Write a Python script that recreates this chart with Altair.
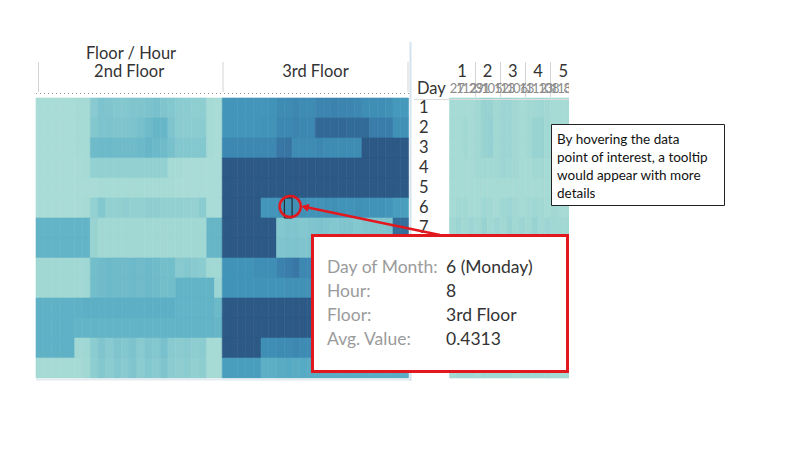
import altair as alt
import pandas as pd

# ---------------- data ----------------
FLOORS = ["2nd Floor", "3rd Floor"]
HOURS = list(range(24))
DAYS = list(range(1, 15))
WEEKS = ["1", "2", "3", "4", "5"]
WEEK_SUBLABELS = ["27", "1", "12", "29", "31", "1", "05", "12", "13", "1",
                  "06", "13", "1", "12", "13", "08", "1", "13", "8", "8"]

FLOOR2 = [
    [.10,.10,.10,.10,.10,.11,.11,.20,.23,.22,.21,.21,.22,.22,.23,.24,.22,.21,.19,.19,.18,.18,.11,.10],
    [.10,.10,.10,.10,.10,.11,.11,.21,.23,.23,.22,.22,.23,.24,.26,.28,.28,.22,.19,.19,.19,.19,.11,.10],
    [.10,.10,.10,.10,.10,.11,.11,.26,.27,.27,.26,.26,.26,.27,.28,.27,.26,.24,.21,.21,.21,.21,.11,.10],
    [.10,.10,.10,.10,.10,.10,.11,.17,.17,.17,.17,.17,.17,.17,.17,.17,.17,.11,.11,.10,.10,.10,.10,.10],
    [.10,.10,.10,.10,.10,.10,.10,.10,.11,.11,.11,.11,.11,.11,.11,.11,.11,.11,.10,.10,.10,.10,.10,.10],
    [.10,.10,.10,.10,.10,.10,.11,.17,.21,.17,.17,.18,.17,.17,.18,.18,.17,.17,.17,.16,.16,.19,.10,.10],
    [.29,.29,.29,.29,.29,.29,.29,.15,.12,.12,.12,.12,.12,.12,.12,.12,.12,.12,.12,.12,.12,.12,.28,.28],
    [.29,.29,.29,.29,.29,.29,.29,.15,.12,.12,.12,.12,.12,.12,.12,.12,.12,.12,.12,.12,.12,.12,.28,.28],
    [.12,.12,.12,.12,.12,.12,.13,.25,.26,.27,.26,.26,.27,.26,.27,.26,.25,.25,.20,.21,.20,.19,.12,.12],
    [.12,.12,.12,.12,.12,.12,.13,.25,.26,.27,.26,.26,.27,.26,.27,.26,.25,.25,.29,.29,.29,.29,.29,.14],
    [.30,.30,.30,.30,.30,.30,.31,.31,.31,.31,.31,.31,.31,.31,.31,.31,.31,.31,.29,.29,.29,.29,.29,.27],
    [.30,.30,.30,.30,.30,.29,.29,.29,.29,.29,.29,.29,.29,.29,.29,.29,.29,.29,.29,.29,.29,.29,.29,.28],
    [.30,.30,.30,.30,.30,.12,.13,.19,.22,.20,.22,.21,.23,.20,.22,.21,.24,.20,.19,.20,.18,.19,.11,.11],
    [.11,.11,.11,.11,.11,.11,.12,.18,.21,.19,.21,.20,.22,.19,.21,.20,.22,.19,.18,.19,.17,.18,.11,.11],
]

FLOOR3 = [
    [.41,.41,.41,.41,.41,.41,.42,.45,.45,.46,.45,.45,.47,.47,.48,.47,.47,.46,.44,.44,.44,.43,.40,.40],
    [.41,.41,.41,.41,.41,.42,.42,.46,.46,.47,.46,.46,.57,.57,.57,.57,.56,.56,.56,.50,.50,.50,.43,.43],
    [.46,.46,.46,.46,.46,.46,.46,.52,.53,.45,.45,.45,.46,.45,.45,.45,.45,.45,.62,.62,.62,.62,.62,.62],
    [.62,.62,.62,.62,.62,.62,.62,.62,.62,.62,.62,.62,.62,.62,.62,.62,.62,.62,.62,.62,.62,.62,.62,.62],
    [.62,.62,.62,.62,.62,.62,.62,.62,.62,.62,.62,.62,.62,.62,.62,.62,.62,.62,.62,.62,.62,.62,.62,.62],
    [.62,.62,.62,.62,.62,.41,.41,.42,.4313,.43,.43,.42,.42,.43,.43,.42,.42,.43,.42,.42,.42,.41,.38,.38],
    [.62,.62,.62,.62,.62,.62,.62,.21,.22,.22,.21,.22,.23,.22,.21,.22,.22,.21,.22,.22,.22,.23,.55,.55],
    [.62,.62,.62,.62,.62,.62,.62,.22,.23,.23,.22,.23,.24,.23,.22,.23,.23,.22,.23,.23,.23,.24,.55,.55],
    [.42,.42,.42,.42,.44,.44,.44,.48,.50,.52,.46,.46,.46,.45,.45,.45,.45,.45,.45,.45,.45,.45,.45,.45],
    [.42,.42,.42,.42,.42,.42,.42,.42,.43,.43,.43,.43,.43,.43,.43,.43,.43,.43,.43,.43,.43,.43,.43,.43],
    [.62,.62,.62,.62,.62,.62,.62,.62,.62,.62,.62,.62,.62,.62,.62,.62,.62,.62,.62,.62,.62,.62,.62,.62],
    [.62,.62,.62,.62,.62,.62,.62,.62,.62,.62,.62,.62,.62,.62,.62,.62,.62,.62,.62,.62,.62,.62,.62,.62],
    [.62,.62,.62,.62,.62,.44,.44,.45,.45,.46,.45,.45,.45,.45,.45,.45,.45,.45,.45,.45,.45,.45,.45,.45],
    [.38,.38,.38,.38,.38,.31,.31,.32,.33,.32,.33,.32,.32,.32,.32,.32,.32,.32,.32,.32,.32,.32,.32,.32],
]

RIGHT = [
    [.11,.11,.11,.11,.12,.15,.15,.12,.14,.14,.12,.11,.12,.12,.13,.12,.11,.11,.11,.11],
    [.11,.11,.12,.11,.12,.15,.16,.12,.14,.14,.12,.11,.12,.15,.15,.12,.11,.11,.11,.11],
    [.11,.11,.12,.11,.12,.15,.16,.12,.14,.14,.12,.11,.12,.15,.15,.12,.11,.11,.11,.11],
    [.11,.11,.11,.11,.12,.12,.12,.12,.14,.13,.12,.11,.11,.12,.12,.11,.11,.11,.11,.11],
    [.11,.11,.11,.11,.11,.11,.11,.11,.11,.11,.11,.11,.11,.11,.11,.11,.11,.11,.11,.11],
    [.11,.12,.12,.11,.11,.13,.12,.11,.13,.14,.12,.11,.12,.13,.12,.11,.12,.11,.11,.11],
    [.12,.14,.12,.14,.12,.15,.12,.14,.12,.15,.12,.14,.12,.15,.12,.14,.12,.12,.12,.12],
    [.12,.13,.12,.13,.12,.14,.12,.13,.12,.14,.12,.13,.12,.14,.12,.13,.12,.12,.12,.12],
    [.11,.12,.11,.12,.12,.13,.12,.12,.11,.13,.12,.12,.11,.13,.12,.12,.11,.11,.11,.11],
    [.11,.12,.11,.12,.12,.13,.12,.12,.11,.13,.12,.12,.11,.13,.12,.12,.11,.11,.11,.11],
    [.12,.13,.12,.13,.12,.14,.12,.13,.12,.14,.12,.13,.12,.14,.12,.13,.12,.12,.12,.12],
    [.12,.13,.12,.13,.12,.14,.12,.13,.12,.14,.12,.13,.12,.14,.12,.13,.12,.12,.12,.12],
    [.11,.12,.12,.12,.11,.13,.12,.12,.12,.13,.11,.12,.12,.13,.12,.12,.11,.11,.11,.11],
    [.11,.12,.13,.12,.11,.13,.12,.12,.13,.12,.11,.12,.13,.12,.12,.12,.11,.11,.11,.11],
]

HOVER_FLOOR, HOVER_DAY, HOVER_HOUR = "3rd Floor", 6, 8
TOOLTIP_LABELS = ["Day of Month:", "Hour:", "Floor:", "Avg. Value:"]
TOOLTIP_VALUES = ["6 (Monday)", "8", "3rd Floor", "0.4313"]
NOTE_LINES = ["By hovering the data", "point of interest, a tooltip",
              "would appear with more", "details"]

# ---------------- tables ----------------
cols = [f"{f}|{h}" for f in FLOORS for h in HOURS]
rows = []
for f, grid in zip(FLOORS, [FLOOR2, FLOOR3]):
    for di, d in enumerate(DAYS):
        for h in HOURS:
            rows.append({"floor": f, "day": d, "hour": h, "col": f"{f}|{h}",
                         "value": grid[di][h]})
main_df = pd.DataFrame(rows)
hover_df = main_df[(main_df.floor == HOVER_FLOOR) & (main_df.day == HOVER_DAY)
                   & (main_df.hour == HOVER_HOUR)]

subs = [f"s{i}" for i in range(len(WEEK_SUBLABELS))]
right_df = pd.DataFrame([{"day": d, "sub": subs[i], "value": RIGHT[di][i]}
                         for di, d in enumerate(DAYS) for i in range(len(subs))])
sub_df = pd.DataFrame({"sub": subs, "label": WEEK_SUBLABELS})
week_df = pd.DataFrame({"week": WEEKS})
floor_df = pd.DataFrame({"floor": FLOORS})
one_df = pd.DataFrame({"k": [0]})
day_df = pd.DataFrame({"day": DAYS, "label": [str(d) for d in DAYS]})
tip_df = pd.DataFrame({"i": list(range(4)), "label": TOOLTIP_LABELS, "val": TOOLTIP_VALUES})

# ---------------- layout ----------------
FONT = "Lato"
X_MAIN = [36, 408.5]
Y_ROWS = [98, 378]
X_RIGHT = [449.5, 576]
RED = "#e2181f"
TXT = "#333333"

xs_main = alt.Scale(domain=cols, range=X_MAIN, paddingInner=0, paddingOuter=0)
xs_floor = alt.Scale(domain=FLOORS, range=X_MAIN, paddingInner=0, paddingOuter=0)
ys_day = alt.Scale(domain=DAYS, range=Y_ROWS, paddingInner=0, paddingOuter=0)
xs_sub = alt.Scale(domain=subs, range=X_RIGHT, paddingInner=0, paddingOuter=0)
xs_week = alt.Scale(domain=WEEKS, range=X_RIGHT, paddingInner=0, paddingOuter=0)
ys_tip = alt.Scale(domain=list(range(4)), range=[256, 352], paddingInner=0, paddingOuter=0)
c_scale = alt.Scale(domain=[0.10, 0.20, 0.30, 0.40, 0.50, 0.62],
                    range=["#a9dcd6", "#88cad0", "#5fb1c6", "#4599bb", "#3a7dab", "#2c5985"])

def heat(df, xfield, xscale):
    return alt.Chart(df).mark_rect(strokeWidth=0.6).encode(
        x=alt.X(xfield, scale=xscale, axis=None),
        y=alt.Y("day:O", scale=ys_day, axis=None),
        color=alt.Color("value:Q", scale=c_scale, legend=None),
        stroke=alt.Stroke("value:Q", scale=c_scale, legend=None),
    )

main_heat = heat(main_df, "col:O", xs_main)
right_heat = heat(right_df, "sub:O", xs_sub)

hover_box = alt.Chart(hover_df).mark_rect(filled=False, stroke="#1a1a1a", strokeWidth=1).encode(
    x=alt.X("col:O", scale=xs_main, axis=None),
    y=alt.Y("day:O", scale=ys_day, axis=None),
)
hover_circle = alt.Chart(hover_df).mark_point(
    shape="circle", size=450, filled=False, stroke=RED, strokeWidth=2.5,
    xOffset=2, yOffset=-1.5, opacity=1).encode(
    x=alt.X("col:O", scale=xs_main, axis=None),
    y=alt.Y("day:O", scale=ys_day, axis=None),
)

def txt(**kw):
    base = dict(font=FONT, color=TXT, fontSize=16.5, baseline="middle")
    base.update(kw)
    return base

floor_title = alt.Chart(floor_df).mark_text(**txt()).encode(
    x=alt.X("floor:N", scale=xs_floor, axis=None), y=alt.value(72), text="floor:N")
top_title = alt.Chart(one_df).mark_text(**txt()).encode(
    x=alt.value(131), y=alt.value(54), text=alt.value("Floor / Hour"))
week_title = alt.Chart(week_df).mark_text(**txt()).encode(
    x=alt.X("week:N", scale=xs_week, axis=None), y=alt.value(72), text="week:N")
sub_title = alt.Chart(sub_df).mark_text(**txt(fontSize=13, color="#8c8c8c", align="left", dx=-3)).encode(
    x=alt.X("sub:N", scale=xs_sub, axis=None), y=alt.value(89), text="label:N")
day_title = alt.Chart(one_df).mark_text(**txt(align="left")).encode(
    x=alt.value(417), y=alt.value(89), text=alt.value("Day"))
day_labels = alt.Chart(day_df).mark_text(**txt(align="left")).encode(
    x=alt.value(419), y=alt.Y("day:O", scale=ys_day, axis=None), text="label:N")

def rule(x, y, x2, y2, color, width, dash=None):
    kw = dict(color=color, strokeWidth=width)
    if dash:
        kw["strokeDash"] = dash
    return alt.Chart(one_df).mark_rule(**kw).encode(
        x=alt.value(x), y=alt.value(y), x2=alt.value(x2), y2=alt.value(y2))

lines = [
    rule(38.5, 62, 38.5, 92, "#d4d4d4", 1),
    rule(223, 62, 223, 92, "#d4d4d4", 1),
    rule(408, 62, 408, 92, "#d4d4d4", 1),
    rule(36, 93.5, 409, 93.5, "#9a9a9a", 1, [1, 3]),
    rule(36, 379.5, 410, 379.5, "#e3ebf0", 2),
    rule(410.5, 42, 410.5, 381, "#d3e4ee", 2),
    rule(414, 99.5, 576, 99.5, "#dcdcdc", 1),
]
for xv in [475.5, 500.5, 525.5, 550.5]:
    lines.append(rule(xv, 62, xv, 97, "#d4d4d4", 1))

# white area right of the side heatmap (dashboard edge)
edge = alt.Chart(one_df).mark_rect(color="white").encode(
    x=alt.value(569), x2=alt.value(600), y=alt.value(40), y2=alt.value(390))

# callout arrow from tooltip to hovered cell
arrow_line = rule(303, 206.5, 440, 235, RED, 2.5)
arrow_head = alt.Chart(one_df).mark_point(
    shape="triangle-left", filled=True, size=70, angle=12, color=RED, opacity=1).encode(
    x=alt.value(305), y=alt.value(207))

tip_box = alt.Chart(one_df).mark_rect(fill="white", stroke=RED, strokeWidth=3).encode(
    x=alt.value(312.5), x2=alt.value(567.5), y=alt.value(235.5), y2=alt.value(371.5))
tip_labels = alt.Chart(tip_df).mark_text(**txt(fontSize=17.5, color="#9b9b9b", align="left")).encode(
    x=alt.value(327), y=alt.Y("i:O", scale=ys_tip, axis=None), text="label:N")
tip_values = alt.Chart(tip_df).mark_text(**txt(fontSize=17.5, color=TXT, align="left")).encode(
    x=alt.value(446), y=alt.Y("i:O", scale=ys_tip, axis=None), text="val:N")

note_box = alt.Chart(one_df).mark_rect(fill="white", stroke="#222222", strokeWidth=1).encode(
    x=alt.value(551.5), x2=alt.value(724.5), y=alt.value(124.5), y2=alt.value(205.5))
note_text = alt.Chart(one_df).mark_text(
    font=FONT, fontSize=13.5, color="#111111", align="left", baseline="middle",
    lineHeight=18).encode(
    x=alt.value(557), y=alt.value(140), text=alt.value(NOTE_LINES))

chart = alt.layer(
    main_heat, right_heat, *lines,
    floor_title, top_title, week_title, sub_title, day_title, day_labels, edge,
    hover_box, hover_circle, arrow_line, arrow_head,
    tip_box, tip_labels, tip_values, note_box, note_text,
).resolve_scale(
    x="independent", y="independent"
).properties(
    width=800, height=450, padding=0, autosize="none", background="white"
).configure_view(stroke=None)

chart.save("out.html", embed_options={"renderer": "svg", "actions": False})
